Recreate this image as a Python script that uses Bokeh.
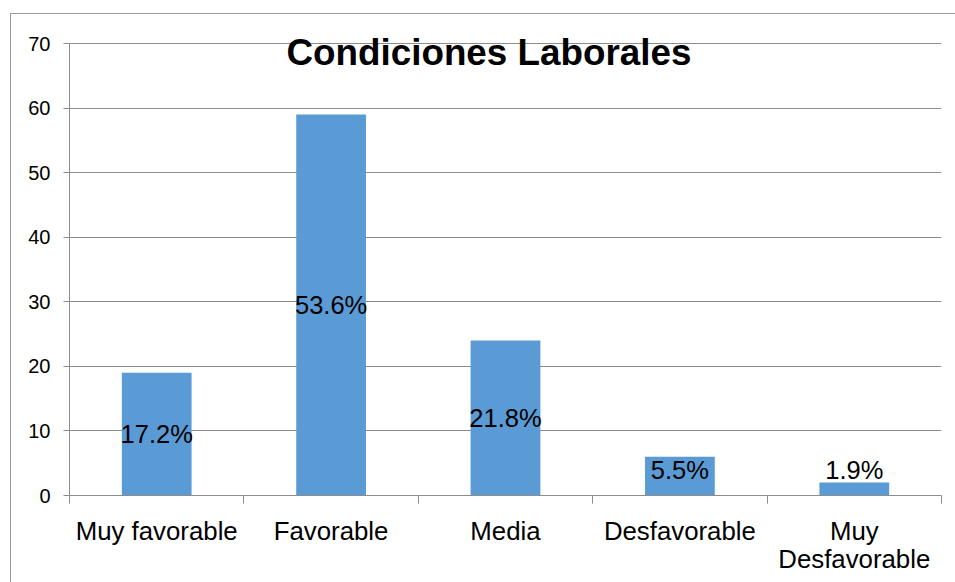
from bokeh.plotting import figure
from bokeh.models import Range1d, FixedTicker, Label, ColumnDataSource, InlineStyleSheet
from bokeh.core.properties import value
from bokeh.embed import file_html
from bokeh.resources import INLINE

# Survey results: working conditions
categories = ["Muy favorable", "Favorable", "Media", "Desfavorable", "Muy\nDesfavorable"]
counts = [19, 59, 24, 6, 2]
percent_labels = ["17.2%", "53.6%", "21.8%", "5.5%", "1.9%"]
y_ticks = [0, 10, 20, 30, 40, 50, 60, 70]

FONT = "Liberation Sans"
GRAY = "#8c8c8c"
BAR = "#5b9bd5"

n = len(categories)
centers = [i + 0.5 for i in range(n)]
edges = list(range(n + 1))
# percentage labels sit mid-bar, but never lower than a small floor
label_y = [max(c / 2, 3.9) for c in counts]

Y_MAX = y_ticks[-1]
# a little headroom above the last tick so the title is not clipped
Y_END = Y_MAX * 462 / 452

source = ColumnDataSource(dict(x=centers, top=counts, pct=percent_labels, ly=label_y))

# thin outer border of the chart box, drawn over the canvas
border_css = InlineStyleSheet(css="""
:host { position: relative; }
:host::after {
  content: "";
  position: absolute;
  left: 10px; top: 13px; right: -10px; bottom: -10px;
  border-left: 1px solid #9a9a9a;
  border-top: 1px solid #9a9a9a;
  pointer-events: none;
}
""")

p = figure(width=955, height=582, output_backend="svg", toolbar_location=None,
           x_range=Range1d(0, n), y_range=Range1d(0, Y_END),
           min_border_left=69, min_border_right=14, min_border_top=33, min_border_bottom=87,
           outline_line_color=None, background_fill_color="white", border_fill_color="white",
           stylesheets=[border_css])

# bars
p.vbar(x="x", top="top", width=0.4, bottom=0, source=source,
       fill_color=BAR, line_color=None)

# value labels
p.text(x="x", y="ly", text="pct", source=source,
       text_align="center", text_baseline="middle",
       text_font=value(FONT), text_font_size="25.5px", text_color="black")

# x axis: category names at centres, tick marks at category boundaries
xa = p.xaxis[0]
xa.ticker = FixedTicker(ticks=centers, minor_ticks=edges)
xa.major_label_overrides = {c: name for c, name in zip(centers, categories)}
xa.axis_line_color = GRAY
xa.major_tick_line_color = None
xa.major_tick_in = 0
xa.major_tick_out = 0
xa.minor_tick_line_color = GRAY
xa.minor_tick_in = 0
xa.minor_tick_out = 8
xa.major_label_standoff = 13
xa.major_label_text_font = FONT
xa.major_label_text_font_size = "25.8px"
xa.major_label_text_color = "black"
xa.major_label_text_line_height = 1.0

# y axis
ya = p.yaxis[0]
ya.ticker = FixedTicker(ticks=y_ticks)
ya.bounds = (0, Y_MAX)
ya.axis_line_color = GRAY
ya.major_tick_line_color = GRAY
ya.major_tick_in = 0
ya.major_tick_out = 6
ya.minor_tick_line_color = None
ya.major_label_standoff = 13
ya.major_label_text_font = FONT
ya.major_label_text_font_size = "20px"
ya.major_label_text_color = "black"

p.xgrid.visible = False
p.ygrid.grid_line_color = GRAY
p.ygrid.grid_line_width = 1

# chart title, overlapping the top of the plot area
p.add_layout(Label(x=2.405, y=68.6, text="Condiciones Laborales",
                   text_font=FONT, text_font_style="bold", text_font_size="36.8px",
                   text_align="center", text_baseline="alphabetic", text_color="black"))

open("out.html", "w").write(file_html(p, INLINE))
